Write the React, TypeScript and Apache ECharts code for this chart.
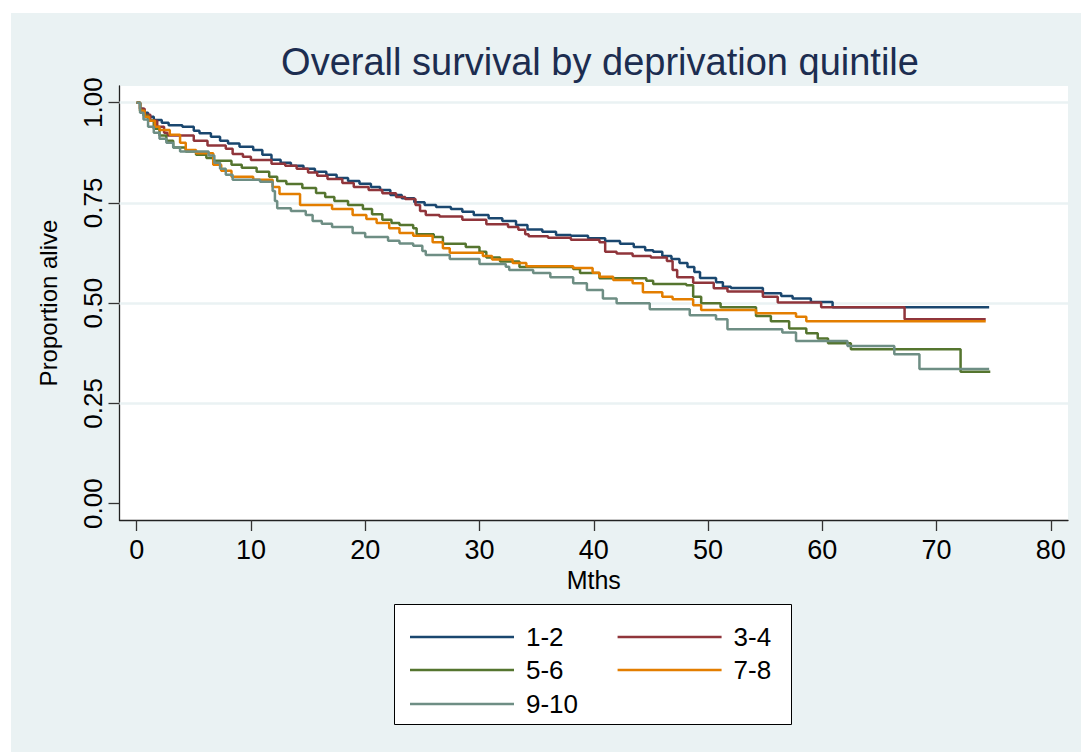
import React, { useEffect, useRef } from "react";
import * as echarts from "echarts";

const groups = ["1-2", "3-4", "5-6", "7-8", "9-10"];
const colors = ["#1a476f", "#90353b", "#55752f", "#e37e00", "#6e8e84"];
const xTicks = [0, 10, 20, 30, 40, 50, 60, 70, 80];
const yTicks = [0, 0.25, 0.5, 0.75, 1];
const gridValues = [0.25, 0.5, 0.75, 1];

// Kaplan-Meier steps: [month, survival after that month]
const km12: number[][] = [
  [0, 1], [0.3, 0.985], [0.6, 0.975], [1.0, 0.965], [1.5, 0.957], [2.2, 0.95], [2.8, 0.944],
  [4.0, 0.94], [5.0, 0.93], [5.5, 0.924], [6.5, 0.915], [7.3, 0.905], [8.0, 0.898], [9.0, 0.89],
  [10.2, 0.882], [11.0, 0.87], [11.8, 0.858], [12.6, 0.85], [13.5, 0.843], [14.6, 0.835],
  [15.6, 0.828], [16.6, 0.82], [17.5, 0.812], [18.5, 0.805], [19.5, 0.798], [20.5, 0.79],
  [21.3, 0.782], [22.2, 0.77], [23.2, 0.762], [24.3, 0.752], [25.2, 0.745], [26.2, 0.74],
  [27.5, 0.735], [28.5, 0.728], [29.5, 0.72], [30.8, 0.712], [32.0, 0.705], [33.2, 0.695],
  [34.2, 0.684], [35.5, 0.678], [36.7, 0.67], [38.0, 0.668], [39.5, 0.662], [41.0, 0.655],
  [42.3, 0.648], [43.5, 0.64], [44.5, 0.632], [45.2, 0.628], [46.0, 0.618], [46.8, 0.61],
  [47.5, 0.6], [48.2, 0.59], [48.8, 0.578], [49.3, 0.563], [50.7, 0.552], [51.3, 0.541],
  [52.0, 0.538], [54.8, 0.525], [56.4, 0.518], [57.4, 0.512], [59.0, 0.503], [60.9, 0.49],
  [74.6, 0.49],
];
const km34: number[][] = [
  [0, 1], [0.3, 0.985], [0.7, 0.97], [1.2, 0.955], [1.8, 0.94], [2.4, 0.925], [2.7, 0.918],
  [5.0, 0.905], [6.2, 0.893], [7.8, 0.885], [8.4, 0.872], [9.3, 0.865], [10.0, 0.857],
  [11.8, 0.848], [13.0, 0.843], [14.0, 0.835], [15.0, 0.826], [15.8, 0.818], [16.7, 0.81],
  [18.0, 0.8], [19.0, 0.79], [20.3, 0.782], [21.5, 0.774], [22.7, 0.765], [23.5, 0.76],
  [24.4, 0.745], [24.8, 0.73], [25.3, 0.72], [26.5, 0.716], [28.5, 0.708], [30.6, 0.697],
  [32.5, 0.69], [33.4, 0.683], [34.0, 0.672], [34.3, 0.667], [36.0, 0.663], [38.0, 0.658],
  [40.5, 0.652], [41.0, 0.628], [42.0, 0.624], [43.4, 0.618], [45.0, 0.614], [46.4, 0.605],
  [46.9, 0.583], [47.3, 0.565], [48.7, 0.551], [50.5, 0.537], [51.7, 0.529], [54.8, 0.516],
  [56.1, 0.502], [59.9, 0.49], [67.2, 0.46], [74.3, 0.46],
];
const km56: number[][] = [
  [0, 1], [0.3, 0.98], [0.6, 0.968], [1.0, 0.955], [1.5, 0.935], [2.0, 0.918], [2.6, 0.905],
  [3.2, 0.888], [4.3, 0.878], [5.2, 0.87], [6.1, 0.862], [6.7, 0.855], [8.3, 0.845],
  [9.2, 0.838], [10.5, 0.828], [11.6, 0.815], [12.3, 0.805], [13.1, 0.797], [14.5, 0.787],
  [15.7, 0.775], [16.5, 0.765], [17.3, 0.755], [18.5, 0.745], [19.8, 0.735], [20.6, 0.722],
  [21.5, 0.708], [22.3, 0.7], [23.0, 0.695], [24.2, 0.687], [24.5, 0.672], [26.0, 0.665],
  [26.8, 0.648], [28.8, 0.64], [30.0, 0.628], [30.6, 0.614], [31.8, 0.604], [33.5, 0.59],
  [38.2, 0.585], [38.8, 0.575], [40.5, 0.562], [44.6, 0.556], [45.2, 0.548], [48.1, 0.545],
  [48.7, 0.516], [49.4, 0.5], [51.1, 0.49], [54.2, 0.468], [55.5, 0.455], [57.1, 0.437],
  [58.6, 0.425], [59.6, 0.412], [60.5, 0.4], [62.5, 0.385], [72.1, 0.329], [74.7, 0.329],
];
const km78: number[][] = [
  [0, 1], [0.3, 0.98], [0.7, 0.965], [1.1, 0.955], [1.6, 0.94], [2.0, 0.932], [2.9, 0.92],
  [3.8, 0.9], [4.3, 0.882], [5.2, 0.874], [6.7, 0.845], [7.4, 0.83], [8.3, 0.815],
  [10.2, 0.808], [11.9, 0.79], [12.5, 0.772], [14.3, 0.745], [17.1, 0.735], [18.9, 0.72],
  [20.1, 0.71], [21.0, 0.7], [22.1, 0.687], [23.0, 0.675], [24.2, 0.668], [25.9, 0.652],
  [26.8, 0.637], [27.4, 0.626], [30.3, 0.618], [31.1, 0.609], [32.9, 0.6], [34.1, 0.592],
  [38.2, 0.588], [39.9, 0.576], [40.5, 0.566], [41.7, 0.558], [43.4, 0.55], [44.3, 0.527],
  [46.0, 0.516], [46.9, 0.51], [48.7, 0.495], [49.4, 0.483], [54.2, 0.475], [57.7, 0.466],
  [58.6, 0.455], [74.3, 0.455],
];
const km910: number[][] = [
  [0, 1], [0.3, 0.975], [0.6, 0.958], [1.0, 0.94], [1.5, 0.925], [2.0, 0.91], [2.6, 0.9],
  [3.2, 0.888], [3.8, 0.878], [6.3, 0.868], [6.8, 0.85], [7.3, 0.835], [7.8, 0.82],
  [8.4, 0.808], [10.8, 0.803], [11.9, 0.78], [12.1, 0.755], [12.3, 0.737], [13.5, 0.73],
  [14.8, 0.72], [15.4, 0.705], [16.2, 0.698], [17.1, 0.69], [18.9, 0.675], [20.0, 0.665],
  [22.0, 0.656], [23.0, 0.649], [24.2, 0.643], [25.0, 0.63], [25.3, 0.62], [27.4, 0.61],
  [30.0, 0.598], [32.3, 0.591], [32.6, 0.583], [34.7, 0.575], [36.2, 0.565], [38.2, 0.55],
  [39.4, 0.533], [40.8, 0.512], [42.0, 0.5], [44.9, 0.485], [48.4, 0.47], [50.7, 0.46],
  [51.7, 0.435], [56.5, 0.427], [57.7, 0.406], [62.2, 0.393], [66.3, 0.373], [68.5, 0.336],
  [74.6, 0.336],
];
const curves = [km12, km34, km56, km78, km910];

const FONT = "'Liberation Sans', Arial, Helvetica, sans-serif";

export default function App() {
  const ref = useRef<HTMLDivElement>(null);

  useEffect(() => {
    if (!ref.current) return;
    const chart = echarts.init(ref.current, null, { renderer: "svg" });

    const lineSeries = groups.map((g, i) => ({
      name: g,
      type: "line",
      step: "end",
      data: curves[i],
      showSymbol: false,
      symbol: "none",
      color: colors[i],
      lineStyle: { color: colors[i], width: 2.5 },
      itemStyle: { color: colors[i] },
      z: 3,
      silent: true,
    }));

    const legendCommon = {
      icon: "rect",
      itemWidth: 104,
      itemHeight: 2.5,
      itemGap: 54,
      orient: "horizontal",
      selectedMode: false,
      textStyle: { fontSize: 26, color: "#000", fontFamily: FONT, padding: [0, 0, 0, 7] },
    };

    chart.setOption({
      animation: false,
      backgroundColor: "transparent",
      title: {
        text: "Overall survival by deprivation quintile",
        left: 595,
        textAlign: "center",
        top: 38,
        textStyle: { fontSize: 38, fontWeight: "normal", color: "#1c2d50", fontFamily: FONT },
      },
      grid: {
        left: 119.5,
        top: 86,
        right: 13,
        bottom: 232,
        show: true,
        backgroundColor: "#ffffff",
        borderWidth: 0,
      },
      xAxis: {
        type: "value",
        min: -1.5,
        max: 81.5,
        name: "Mths",
        nameLocation: "middle",
        nameGap: 43,
        nameTextStyle: { fontSize: 25, color: "#000", fontFamily: FONT },
        axisLine: { onZero: false, lineStyle: { color: "#222", width: 1.3 } },
        axisTick: { show: true, length: 11, inside: false, customValues: xTicks, lineStyle: { color: "#333", width: 1.3 } },
        axisLabel: { customValues: xTicks, fontSize: 27, color: "#000", margin: 16, fontFamily: FONT },
        splitLine: { show: false },
      },
      yAxis: {
        type: "value",
        min: -0.0406,
        max: 1.0416,
        name: "Proportion alive",
        nameLocation: "middle",
        nameRotate: 90,
        nameGap: 59,
        nameTextStyle: { fontSize: 24, color: "#000", fontFamily: FONT },
        axisLine: { show: true, onZero: false, lineStyle: { color: "#222", width: 1.3 } },
        axisTick: { show: true, length: 11, inside: false, customValues: yTicks, lineStyle: { color: "#333", width: 1.3 } },
        axisLabel: {
          customValues: yTicks,
          rotate: 90,
          fontSize: 26,
          color: "#000",
          margin: 14,
          fontFamily: FONT,
          formatter: (v: number) => v.toFixed(2),
        },
        splitLine: { show: false },
      },
      legend: [
        { ...legendCommon, data: ["1-2", "3-4"], left: 405, top: 619 },
        { ...legendCommon, data: ["5-6", "7-8"], left: 405, top: 652 },
        { ...legendCommon, data: ["9-10"], left: 405, top: 686 },
      ],
      graphic: [
        {
          type: "rect",
          shape: { x: 394.5, y: 604.5, width: 397, height: 120 },
          style: { fill: "#ffffff", stroke: "#000000", lineWidth: 1 },
          z: 1,
          silent: true,
        },
      ],
      series: [
        {
          name: "grid",
          type: "line",
          data: [],
          z: 1,
          silent: true,
          markLine: {
            silent: true,
            z: 1,
            symbol: ["none", "none"],
            label: { show: false },
            lineStyle: { color: "#EAF2F3", width: 2.5, type: "solid" },
            data: gridValues.map((v) => ({ yAxis: v })),
          },
        },
        ...lineSeries,
      ],
    });

    return () => chart.dispose();
  }, []);

  return (
    <div style={{ position: "fixed", left: 0, top: 0, width: 1081, height: 752, background: "#ffffff" }}>
      <div style={{ position: "absolute", left: 11, top: 13, right: 0, bottom: 0, background: "#EAF2F3" }} />
      <div ref={ref} style={{ position: "absolute", left: 0, top: 0, width: 1081, height: 752 }} />
    </div>
  );
}
